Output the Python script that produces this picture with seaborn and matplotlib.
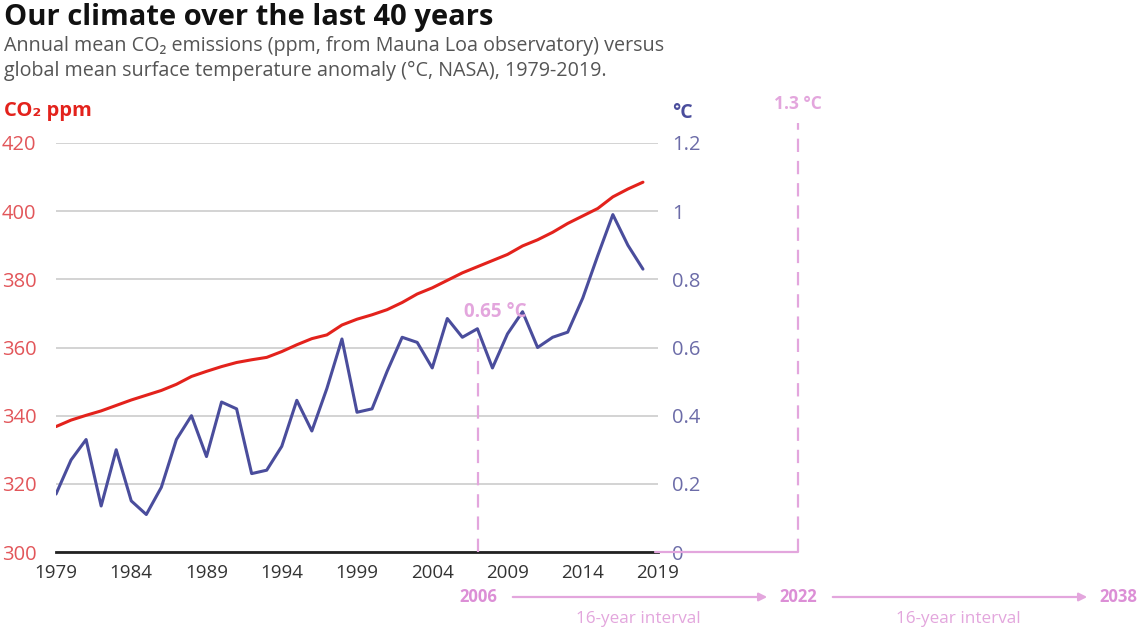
import numpy as np
import pandas as pd
import seaborn as sns
import matplotlib.pyplot as plt
import matplotlib.transforms as mtransforms

# Data
years = list(range(1979, 2019))
co2_ppm = [336.8, 338.7, 340.1, 341.4, 343.0, 344.6, 346.0, 347.4, 349.2, 351.5,
           353.0, 354.4, 355.6, 356.4, 357.1, 358.8, 360.8, 362.6, 363.7, 366.6,
           368.3, 369.6, 371.1, 373.2, 375.7, 377.5, 379.7, 381.9, 383.7, 385.5,
           387.3, 389.8, 391.6, 393.8, 396.4, 398.6, 400.8, 404.2, 406.5, 408.5]
temp_anomaly = [0.17, 0.27, 0.33, 0.135, 0.30, 0.15, 0.11, 0.19, 0.33, 0.40,
                0.28, 0.44, 0.42, 0.23, 0.24, 0.31, 0.445, 0.355, 0.48, 0.625,
                0.41, 0.42, 0.53, 0.63, 0.615, 0.54, 0.685, 0.63, 0.655, 0.54,
                0.64, 0.705, 0.60, 0.63, 0.645, 0.745, 0.87, 0.99, 0.90, 0.83]

co2_ticks = [300, 320, 340, 360, 380, 400, 420]
temp_ticks = [0, 0.2, 0.4, 0.6, 0.8, 1.0, 1.2]
temp_tick_labels = ["0", "0.2", "0.4", "0.6", "0.8", "1", "1.2"]
year_ticks = list(range(1979, 2020, 5))

timeline_years = [2006, 2022, 2038]
timeline_temps = [0.65, 1.3]
interval_label = "16-year interval"

df = pd.DataFrame({"year": years, "co2": co2_ppm, "temp": temp_anomaly})

RED = "#e3221c"
RED_TICK = "#e2565a"
BLUE = "#4a4d9c"
BLUE_TICK = "#6c6ca8"
PINK = "#dc8fd6"
PINK_LIGHT = "#e3a6dd"

sns.set_style("white")
plt.rcParams["font.family"] = ["Open Sans", "DejaVu Sans"]

W, H = 1137, 630
fig = plt.figure(figsize=(W / 100, H / 100), dpi=100)


def fx(px):
    return px / W


def fy(py):
    return 1 - py / H


ax = fig.add_axes([fx(56), fy(552), fx(658) - fx(56), fy(143) - fy(552)])
ax2 = ax.twinx()

# gridlines on the CO2 axis
ax.set_ylim(300, 420)
ax.set_yticks(co2_ticks)
ax.set_xlim(1979, 2019)
ax.set_xticks(year_ticks)
ax.grid(axis="y", color="#d0d0d0", lw=1.3)
ax.grid(axis="x", visible=False)
ax.set_axisbelow(True)

sns.lineplot(data=df, x="year", y="co2", ax=ax, color=RED, lw=2.2)
sns.lineplot(data=df, x="year", y="temp", ax=ax2, color=BLUE, lw=2.2)

ax2.set_ylim(0, 1.2)
ax2.set_yticks(temp_ticks)
ax2.set_yticklabels(temp_tick_labels)

for a in (ax, ax2):
    for s in a.spines.values():
        s.set_visible(False)
    a.set_xlabel("")
    a.set_ylabel("")
ax.spines["bottom"].set_visible(True)
ax.spines["bottom"].set_color("#222222")
ax.spines["bottom"].set_linewidth(2)

ax.tick_params(axis="y", length=0, pad=14, labelsize=14.5, labelcolor=RED_TICK)
ax.tick_params(axis="x", length=0, pad=9, labelsize=13.5, labelcolor="#333333")
ax2.tick_params(axis="y", length=0, pad=10, labelsize=14.5, labelcolor=BLUE_TICK)

# titles
fig.text(fx(4), fy(17), "Our climate over the last 40 years", fontsize=21,
         fontweight="bold", color="#111111", va="center")
fig.text(fx(4), fy(46), "Annual mean CO\u2082 emissions (ppm, from Mauna Loa observatory) versus",
         fontsize=14.2, color="#555555", va="center")
fig.text(fx(4), fy(71), "global mean surface temperature anomaly (\u00b0C, NASA), 1979-2019.",
         fontsize=14.2, color="#555555", va="center")
fig.text(fx(4), fy(111), "CO\u2082 ppm", fontsize=14.5, fontweight="bold", color=RED, va="center")
fig.text(fx(672), fy(113), "\u00b0C", fontsize=14, fontweight="bold", color=BLUE, va="center")

# annotations: dashed temperature markers, x on the figure, y on the temperature axis
blend = mtransforms.blended_transform_factory(fig.transFigure, ax2.transData)


def tl_x(year):
    # timeline below the chart, 20 px per year starting at 2006
    return fx(478 + (year - timeline_years[0]) * 20)


ax2.plot([tl_x(timeline_years[0])] * 2, [0, timeline_temps[0] - 0.02], transform=blend,
         color=PINK_LIGHT, lw=1.6, ls=(0, (6, 4)), clip_on=False)
ax2.text(tl_x(timeline_years[0]) + fx(17), timeline_temps[0] + 0.055, f"{timeline_temps[0]} \u00b0C",
         transform=blend, color=PINK_LIGHT, fontsize=13.5, fontweight="bold", ha="center",
         va="center", clip_on=False)
ax2.plot([tl_x(timeline_years[1])] * 2, [0, timeline_temps[1] - 0.04], transform=blend,
         color=PINK_LIGHT, lw=1.6, ls=(0, (6, 4)), clip_on=False)
ax2.plot([fx(655), tl_x(timeline_years[1])], [0, 0], transform=blend,
         color=PINK_LIGHT, lw=1.6, clip_on=False)
ax2.text(tl_x(timeline_years[1]), timeline_temps[1] + 0.015, f"{timeline_temps[1]} \u00b0C",
         transform=blend, color=PINK_LIGHT, fontsize=12.5, fontweight="bold", ha="center",
         va="center", clip_on=False)

# timeline with arrows
for i, yr in enumerate(timeline_years):
    fig.text(tl_x(yr), fy(597), str(yr), fontsize=12, fontweight="bold", color=PINK,
             ha="center", va="center")
    if i < len(timeline_years) - 1:
        nxt = timeline_years[i + 1]
        fig.add_artist(plt.Annotation("", xy=(tl_x(nxt) - fx(28), fy(597)),
                                      xytext=(tl_x(yr) + fx(32), fy(597)),
                                      xycoords="figure fraction", textcoords="figure fraction",
                                      arrowprops=dict(arrowstyle="-|>", color=PINK_LIGHT, lw=1.6,
                                                      mutation_scale=12)))
        fig.text((tl_x(yr) + tl_x(nxt)) / 2, fy(619), interval_label, fontsize=12.3,
                 color=PINK_LIGHT, ha="center", va="center")

fig.savefig("out.png", dpi=100, facecolor="white")
